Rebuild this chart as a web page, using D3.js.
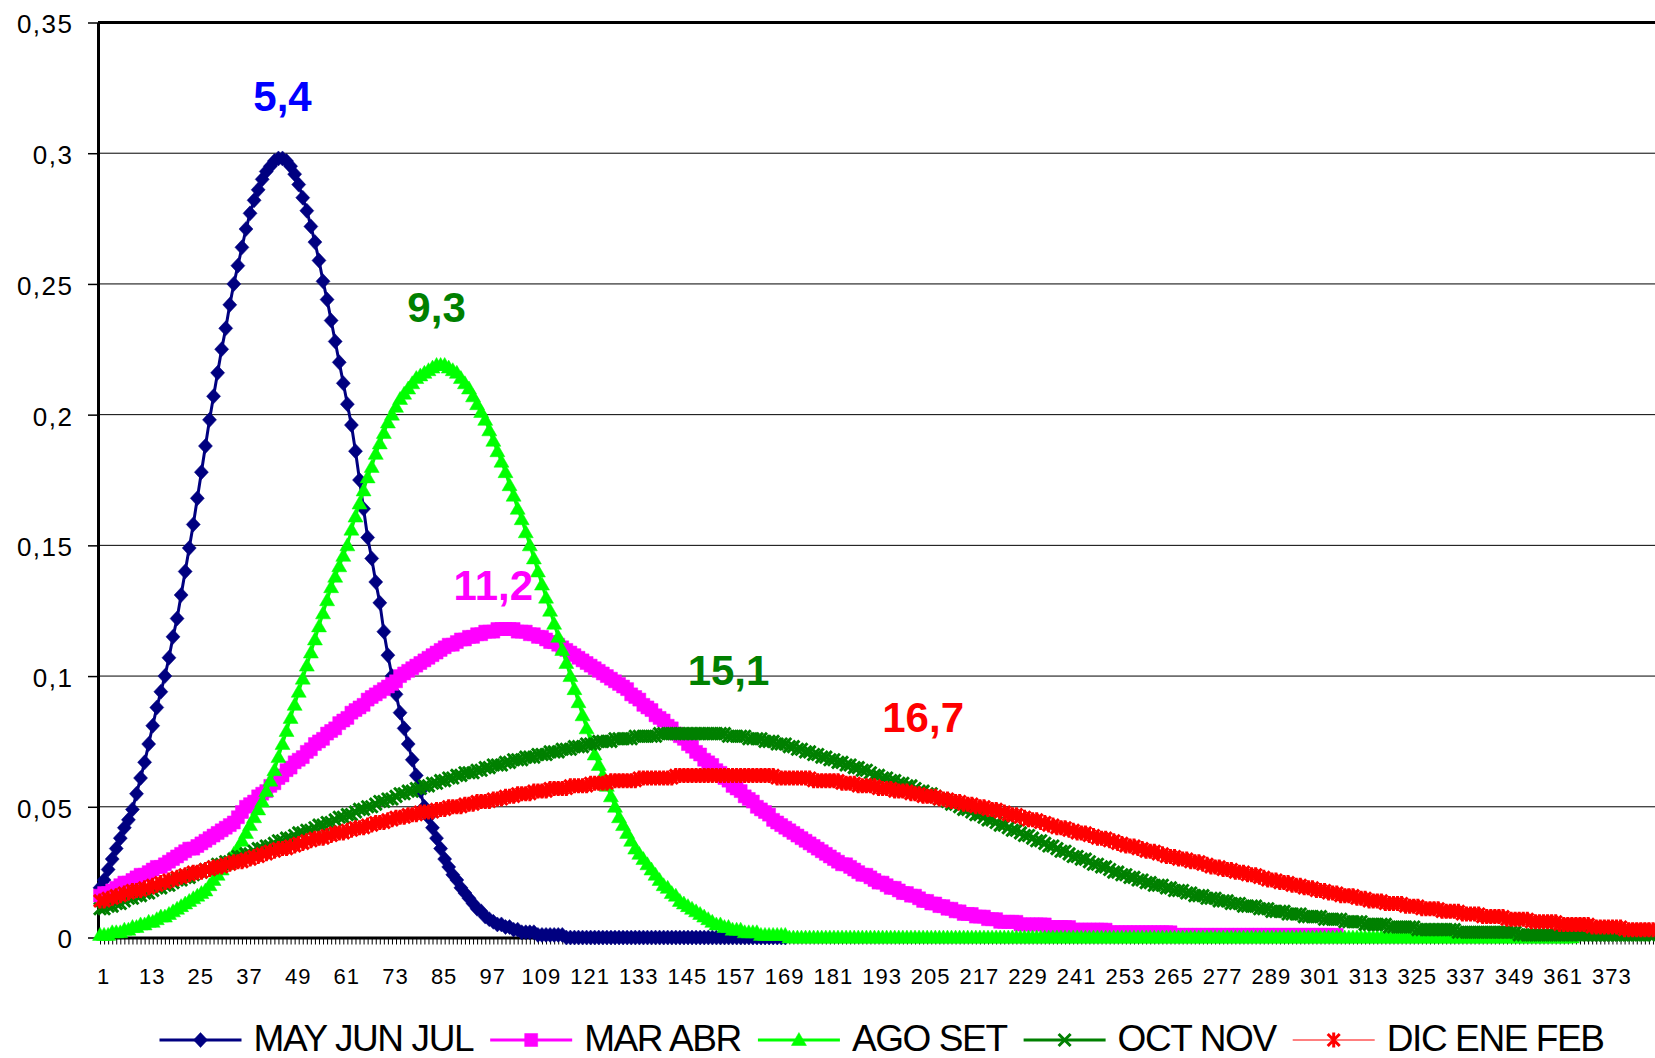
<!DOCTYPE html>
<html>
<head>
<meta charset="utf-8">
<script src="https://cdn.jsdelivr.net/npm/d3@7"></script>
<style>
body { margin: 0; background: #fff; }
</style>
</head>
<body>
<svg id="chart" width="1655" height="1058"></svg>
<script>
var FONT = "'Liberation Sans', Arial, Helvetica, sans-serif";

var categories = d3.range(1, 385);
var xTickLabels = [1, 13, 25, 37, 49, 61, 73, 85, 97, 109, 121, 133, 145, 157, 169, 181,
    193, 205, 217, 229, 241, 253, 265, 277, 289, 301, 313, 325, 337, 349, 361, 373];
var yTicks = [0, 0.05, 0.1, 0.15, 0.2, 0.25, 0.3, 0.35];

var seriesNames = ["MAY JUN JUL", "MAR ABR", "AGO SET", "OCT NOV", "DIC ENE FEB"];
var seriesColors = ["#000080", "#FF00FF", "#00FF00", "#008000", "#FF0000"];

var peakLabels = ["5,4", "9,3", "11,2", "15,1", "16,7"];
var peakLabelColors = ["#0000FF", "#008000", "#FF00FF", "#008000", "#FF0000"];
var peakLabelCats = [46, 84, 98, 156, 204];
var peakLabelVals = [0.316, 0.2355, 0.129, 0.0965, 0.0787];

var mayJunJul = [
0.019,0.022,0.026,0.030,0.034,0.038,0.042,0.045,0.049,0.055,
0.061,0.067,0.074,0.081,0.088,0.094,0.100,0.107,0.115,0.122,
0.131,0.140,0.149,0.158,0.168,0.178,0.188,0.198,0.207,0.216,
0.225,0.233,0.242,0.250,0.257,0.264,0.271,0.277,0.282,0.286,
0.290,0.293,0.295,0.297,0.298,0.298,0.297,0.295,0.292,0.288,
0.283,0.278,0.272,0.266,0.259,0.251,0.244,0.236,0.228,0.220,
0.212,0.204,0.196,0.186,0.175,0.164,0.153,0.145,0.136,0.128,
0.117,0.108,0.100,0.093,0.086,0.080,0.074,0.068,0.062,0.056,
0.050,0.046,0.042,0.038,0.034,0.030,0.027,0.024,0.022,0.019,
0.017,0.015,0.013,0.011,0.010,0.008,0.007,0.006,0.005,0.005,
0.004,0.004,0.003,0.003,0.002,0.002,0.002,0.002,0.001,0.001,
0.001,0.001,0.001,0.001,0.001,0,0,0,0,0,
0,0,0,0,0,0,0,0,0,0,
0,0,0,0,0,0,0,0,0,0,
0,0,0,0,0,0,0,0,0,0,
0,0,0,0,0,0,0,0,0,0,
0,0,0,0,0,0,0,0,0,0
];

var marAbr = [
0.016,0.017,0.017,0.018,0.019,0.020,0.021,0.021,0.022,0.023,
0.024,0.024,0.025,0.026,0.027,0.027,0.028,0.029,0.030,0.031,
0.032,0.033,0.034,0.034,0.035,0.036,0.037,0.038,0.039,0.040,
0.041,0.042,0.043,0.044,0.046,0.048,0.050,0.051,0.052,0.054,
0.055,0.056,0.058,0.059,0.061,0.062,0.064,0.065,0.067,0.068,
0.069,0.071,0.072,0.074,0.075,0.076,0.078,0.079,0.080,0.082,
0.083,0.084,0.086,0.087,0.088,0.089,0.091,0.092,0.093,0.094,
0.095,0.096,0.097,0.098,0.100,0.101,0.102,0.103,0.104,0.105,
0.106,0.107,0.108,0.109,0.110,0.111,0.112,0.112,0.113,0.114,
0.114,0.115,0.115,0.116,0.116,0.117,0.117,0.117,0.118,0.118,
0.118,0.118,0.118,0.117,0.117,0.117,0.116,0.116,0.115,0.115,
0.114,0.113,0.113,0.112,0.111,0.110,0.109,0.108,0.107,0.106,
0.105,0.104,0.103,0.102,0.101,0.100,0.099,0.098,0.097,0.096,
0.095,0.093,0.092,0.091,0.089,0.088,0.087,0.085,0.084,0.083,
0.081,0.080,0.078,0.077,0.076,0.074,0.073,0.071,0.070,0.068,
0.067,0.066,0.064,0.063,0.061,0.060,0.058,0.057,0.056,0.054,
0.053,0.052,0.050,0.049,0.048,0.047,0.045,0.044,0.043,0.042,
0.041,0.040,0.039,0.038,0.037,0.036,0.035,0.034,0.033,0.032,
0.031,0.030,0.029,0.028,0.028,0.027,0.026,0.025,0.024,0.024,
0.023,0.022,0.021,0.021,0.020,0.019,0.019,0.018,0.017,0.017,
0.016,0.016,0.015,0.014,0.014,0.013,0.013,0.012,0.012,0.011,
0.011,0.010,0.010,0.009,0.009,0.009,0.008,0.008,0.008,0.007,
0.007,0.007,0.006,0.006,0.006,0.006,0.006,0.005,0.005,0.005,
0.005,0.005,0.005,0.005,0.004,0.004,0.004,0.004,0.004,0.004,
0.003,0.003,0.003,0.003,0.003,0.003,0.003,0.003,0.003,0.002,
0.002,0.002,0.002,0.002,0.002,0.002,0.002,0.002,0.002,0.002,
0.002,0.002,0.002,0.002,0.002,0.001,0.001,0.001,0.001,0.001,
0.001,0.001,0.001,0.001,0.001,0.001,0.001,0.001,0.001,0.001,
0.001,0.001,0.001,0.001,0.001,0.001,0.001,0.001,0.001,0.001,
0.001,0.001,0.001,0.001,0.001,0.001,0.001,0.001,0.001,0.001,
0.001,0.001,0.001,0.001,0.001,0.001
];

var agoSet = [
0.001,0.001,0.001,0.002,0.002,0.002,0.003,0.003,0.004,0.004,
0.005,0.005,0.006,0.006,0.007,0.008,0.008,0.009,0.010,0.011,
0.012,0.013,0.014,0.015,0.016,0.017,0.018,0.020,0.022,0.024,
0.026,0.028,0.030,0.032,0.034,0.037,0.040,0.043,0.046,0.049,
0.052,0.056,0.060,0.064,0.069,0.074,0.079,0.084,0.089,0.094,
0.099,0.104,0.109,0.114,0.119,0.124,0.129,0.134,0.138,0.142,
0.146,0.150,0.156,0.161,0.166,0.171,0.176,0.180,0.185,0.189,
0.193,0.197,0.200,0.203,0.206,0.208,0.210,0.212,0.214,0.215,
0.216,0.217,0.218,0.219,0.219,0.219,0.218,0.217,0.216,0.214,
0.212,0.210,0.207,0.204,0.201,0.198,0.194,0.190,0.186,0.182,
0.178,0.173,0.169,0.164,0.160,0.155,0.150,0.145,0.140,0.135,
0.130,0.125,0.120,0.115,0.110,0.105,0.100,0.095,0.090,0.085,
0.080,0.075,0.070,0.066,0.062,0.058,0.054,0.050,0.046,0.043,
0.040,0.037,0.034,0.032,0.030,0.028,0.026,0.024,0.022,0.020,
0.019,0.017,0.016,0.014,0.013,0.012,0.011,0.010,0.009,0.008,
0.007,0.006,0.005,0.005,0.004,0.004,0.003,0.003,0.003,0.002,
0.002,0.002,0.002,0.001,0.001,0.001,0.001,0.001,0.001,0.001,
0,0,0,0,0,0,0,0,0,0,
0,0,0,0,0,0,0,0,0,0,
0,0,0,0,0,0,0,0,0,0,
0,0,0,0,0,0,0,0,0,0,
0,0,0,0,0,0,0,0,0,0,
0,0,0,0,0,0,0,0,0,0,
0,0,0,0,0,0,0,0,0,0,
0,0,0,0,0,0,0,0,0,0,
0,0,0,0,0,0,0,0,0,0,
0,0,0,0,0,0,0,0,0,0,
0,0,0,0,0,0,0,0,0,0,
0,0,0,0,0,0,0,0,0,0,
0,0,0,0,0,0,0,0,0,0,
0,0,0,0,0,0,0,0,0,0,
0,0,0,0,0,0,0,0,0,0,
0,0,0,0,0,0,0,0,0,0,
0,0,0,0,0,0,0,0,0,0,
0,0,0,0,0,0,0,0,0,0,
0,0,0,0,0,0,0,0,0,0,
0,0,0,0
];

var octNov = [
0.011,0.011,0.012,0.012,0.013,0.013,0.014,0.015,0.015,0.016,
0.016,0.017,0.017,0.018,0.019,0.019,0.020,0.020,0.021,0.022,
0.022,0.023,0.023,0.024,0.025,0.025,0.026,0.026,0.027,0.028,
0.028,0.029,0.029,0.030,0.031,0.031,0.032,0.032,0.033,0.034,
0.034,0.035,0.035,0.036,0.037,0.037,0.038,0.038,0.039,0.040,
0.040,0.041,0.041,0.042,0.043,0.043,0.044,0.044,0.045,0.046,
0.046,0.047,0.047,0.048,0.049,0.049,0.050,0.050,0.051,0.052,
0.052,0.053,0.053,0.054,0.055,0.055,0.056,0.056,0.057,0.057,
0.058,0.058,0.059,0.059,0.060,0.060,0.061,0.061,0.062,0.062,
0.063,0.063,0.063,0.064,0.064,0.065,0.065,0.066,0.066,0.066,
0.067,0.067,0.068,0.068,0.068,0.069,0.069,0.069,0.070,0.070,
0.070,0.071,0.071,0.071,0.072,0.072,0.072,0.073,0.073,0.073,
0.074,0.074,0.074,0.075,0.075,0.075,0.075,0.076,0.076,0.076,
0.076,0.076,0.077,0.077,0.077,0.077,0.077,0.077,0.078,0.078,
0.078,0.078,0.078,0.078,0.078,0.078,0.078,0.078,0.078,0.078,
0.078,0.078,0.078,0.078,0.078,0.077,0.077,0.077,0.077,0.077,
0.076,0.076,0.076,0.076,0.075,0.075,0.075,0.074,0.074,0.074,
0.073,0.073,0.072,0.072,0.071,0.071,0.070,0.070,0.069,0.069,
0.068,0.068,0.067,0.067,0.066,0.066,0.065,0.065,0.064,0.064,
0.063,0.062,0.062,0.061,0.061,0.060,0.060,0.059,0.059,0.058,
0.058,0.057,0.056,0.056,0.055,0.055,0.054,0.053,0.053,0.052,
0.051,0.051,0.050,0.049,0.049,0.048,0.047,0.047,0.046,0.045,
0.045,0.044,0.043,0.043,0.042,0.041,0.041,0.040,0.039,0.039,
0.038,0.037,0.037,0.036,0.035,0.035,0.034,0.033,0.033,0.032,
0.031,0.031,0.030,0.030,0.029,0.028,0.028,0.027,0.027,0.026,
0.025,0.025,0.024,0.024,0.023,0.023,0.022,0.022,0.021,0.021,
0.020,0.020,0.020,0.019,0.019,0.018,0.018,0.018,0.017,0.017,
0.016,0.016,0.016,0.015,0.015,0.015,0.014,0.014,0.014,0.013,
0.013,0.013,0.012,0.012,0.012,0.012,0.011,0.011,0.011,0.010,
0.010,0.010,0.010,0.009,0.009,0.009,0.009,0.008,0.008,0.008,
0.008,0.008,0.007,0.007,0.007,0.007,0.007,0.006,0.006,0.006,
0.006,0.006,0.005,0.005,0.005,0.005,0.005,0.005,0.004,0.004,
0.004,0.004,0.004,0.004,0.004,0.003,0.003,0.003,0.003,0.003,
0.003,0.003,0.003,0.003,0.003,0.002,0.002,0.002,0.002,0.002,
0.002,0.002,0.002,0.002,0.002,0.002,0.002,0.002,0.002,0.002,
0.001,0.001,0.001,0.001,0.001,0.001,0.001,0.001,0.001,0.001,
0.001,0.001,0.001,0.001,0.001,0.001,0.001,0.001,0.001,0.001,
0.001,0.001,0.001,0.001,0.001,0.001,0.001,0.001,0.001,0.001,
0.001,0.001,0.001,0.001
];

var dicEneFeb = [
0.014,0.014,0.015,0.015,0.016,0.016,0.017,0.017,0.018,0.018,
0.018,0.019,0.019,0.020,0.020,0.021,0.021,0.022,0.022,0.023,
0.023,0.024,0.024,0.025,0.025,0.025,0.026,0.026,0.027,0.027,
0.027,0.028,0.028,0.029,0.029,0.029,0.030,0.030,0.031,0.031,
0.032,0.032,0.033,0.033,0.034,0.034,0.034,0.035,0.035,0.036,
0.036,0.037,0.037,0.038,0.038,0.038,0.039,0.039,0.040,0.040,
0.040,0.041,0.041,0.042,0.042,0.042,0.043,0.043,0.044,0.044,
0.044,0.045,0.045,0.046,0.046,0.046,0.047,0.047,0.047,0.048,
0.048,0.048,0.048,0.049,0.049,0.049,0.050,0.050,0.050,0.050,
0.051,0.051,0.051,0.052,0.052,0.052,0.052,0.053,0.053,0.053,
0.054,0.054,0.054,0.055,0.055,0.055,0.055,0.056,0.056,0.056,
0.056,0.057,0.057,0.057,0.057,0.057,0.058,0.058,0.058,0.058,
0.058,0.059,0.059,0.059,0.059,0.059,0.060,0.060,0.060,0.060,
0.060,0.060,0.060,0.061,0.061,0.061,0.061,0.061,0.061,0.061,
0.061,0.061,0.062,0.062,0.062,0.062,0.062,0.062,0.062,0.062,
0.062,0.062,0.062,0.062,0.062,0.062,0.062,0.062,0.062,0.062,
0.062,0.062,0.062,0.062,0.062,0.062,0.062,0.061,0.061,0.061,
0.061,0.061,0.061,0.061,0.061,0.061,0.060,0.060,0.060,0.060,
0.060,0.060,0.060,0.059,0.059,0.059,0.059,0.058,0.058,0.058,
0.058,0.058,0.057,0.057,0.057,0.057,0.056,0.056,0.056,0.056,
0.055,0.055,0.055,0.054,0.054,0.054,0.054,0.053,0.053,0.053,
0.052,0.052,0.052,0.051,0.051,0.051,0.050,0.050,0.050,0.049,
0.049,0.049,0.048,0.048,0.047,0.047,0.047,0.046,0.046,0.045,
0.045,0.045,0.044,0.044,0.043,0.043,0.042,0.042,0.042,0.041,
0.041,0.040,0.040,0.040,0.039,0.039,0.038,0.038,0.038,0.037,
0.037,0.036,0.036,0.035,0.035,0.035,0.034,0.034,0.033,0.033,
0.033,0.032,0.032,0.031,0.031,0.031,0.030,0.030,0.030,0.029,
0.029,0.029,0.028,0.028,0.027,0.027,0.027,0.026,0.026,0.026,
0.025,0.025,0.025,0.024,0.024,0.024,0.023,0.023,0.022,0.022,
0.022,0.021,0.021,0.021,0.020,0.020,0.020,0.019,0.019,0.019,
0.018,0.018,0.018,0.017,0.017,0.017,0.016,0.016,0.016,0.016,
0.015,0.015,0.015,0.014,0.014,0.014,0.014,0.013,0.013,0.013,
0.013,0.013,0.012,0.012,0.012,0.012,0.011,0.011,0.011,0.011,
0.011,0.010,0.010,0.010,0.010,0.010,0.009,0.009,0.009,0.009,
0.009,0.008,0.008,0.008,0.008,0.008,0.008,0.007,0.007,0.007,
0.007,0.007,0.007,0.006,0.006,0.006,0.006,0.006,0.006,0.006,
0.005,0.005,0.005,0.005,0.005,0.005,0.005,0.005,0.004,0.004,
0.004,0.004,0.004,0.004,0.004,0.004,0.003,0.003,0.003,0.003,
0.003,0.003,0.003,0.003
];

var seriesValues = [mayJunJul, marAbr, agoSet, octNov, dicEneFeb];

// marker shapes, one per series (Excel style)
var markerPaths = [
    "M0,-7.5L7,0L0,7.5L-7,0Z",
    "M-6.5,-6.5H6.5V6.5H-6.5Z",
    "M0,-7.5L7.5,5.5L-7.5,5.5Z",
    "M-6,-6L6,6M-6,6L6,-6",
    "M-6,-6L6,6M-6,6L6,-6M0,-7.5L0,7.5"
];
var markerFilled = [true, true, true, false, false];
var lineWidths = [3, 3, 3, 3, 1.5];

var svg = d3.select("#chart");

var x = d3.scalePoint().domain(categories).range([98, 1655]).padding(0.5);
var y = d3.scaleLinear().domain([0, 0.35]).range([937.5, 22.5]);

// gridlines
svg.append("g")
    .selectAll("line")
    .data(yTicks.filter(function (d) { return d > 0 && d < 0.35; }))
    .enter()
    .append("line")
    .attr("x1", 98)
    .attr("x2", 1655)
    .attr("y1", function (d) { return y(d); })
    .attr("y2", function (d) { return y(d); })
    .attr("stroke", "#000")
    .attr("stroke-width", 1);

// top frame line
svg.append("line")
    .attr("x1", 98).attr("x2", 1655)
    .attr("y1", y(0.35)).attr("y2", y(0.35))
    .attr("stroke", "#000")
    .attr("stroke-width", 3);

// y axis
var yAxis = svg.append("g")
    .attr("transform", "translate(98,0)")
    .call(d3.axisLeft(y)
        .tickValues(yTicks)
        .tickSize(10)
        .tickSizeOuter(0)
        .tickPadding(14.5)
        .tickFormat(function (d) { return String(d).replace(".", ","); }));
yAxis.attr("font-family", FONT).attr("font-size", 26);
yAxis.select(".domain").attr("stroke-width", 3);
yAxis.selectAll(".tick line").attr("stroke-width", 1.5);
yAxis.selectAll(".tick text")
    .attr("fill", "#000")
    .attr("dy", "0.4em")
    .attr("letter-spacing", 1.5);

// x axis: one small tick per category
var xMinor = svg.append("g")
    .attr("transform", "translate(0," + y(0) + ")")
    .call(d3.axisBottom(x).tickValues(categories).tickSize(7).tickFormat(""));
xMinor.select(".domain").remove();
xMinor.selectAll(".tick line").attr("stroke-width", 1);

var xAxis = svg.append("g")
    .attr("transform", "translate(0," + y(0) + ")")
    .call(d3.axisBottom(x)
        .tickValues(xTickLabels)
        .tickSize(0)
        .tickSizeOuter(0)
        .tickPadding(31));
xAxis.attr("font-family", FONT).attr("font-size", 22);
xAxis.select(".domain").attr("stroke-width", 3);
xAxis.selectAll(".tick text")
    .attr("fill", "#000")
    .attr("dx", 3)
    .attr("letter-spacing", 1);

// series: line + markers
seriesValues.forEach(function (values, s) {
    var g = svg.append("g").attr("class", "series-" + s);
    var line = d3.line()
        .x(function (d, i) { return x(categories[i]); })
        .y(function (d) { return y(d); });

    g.append("path")
        .datum(values)
        .attr("fill", "none")
        .attr("stroke", seriesColors[s])
        .attr("stroke-width", lineWidths[s])
        .attr("stroke-linejoin", "round")
        .attr("d", line);

    g.selectAll("path.marker")
        .data(values)
        .enter()
        .append("path")
        .attr("class", "marker")
        .attr("d", markerPaths[s])
        .attr("transform", function (d, i) {
            return "translate(" + x(categories[i]) + "," + y(d) + ")";
        })
        .attr("fill", markerFilled[s] ? seriesColors[s] : "none")
        .attr("stroke", seriesColors[s])
        .attr("stroke-width", markerFilled[s] ? 0.5 : 3);
});

// peak labels
svg.append("g")
    .selectAll("text")
    .data(peakLabels)
    .enter()
    .append("text")
    .attr("x", function (d, i) { return x(peakLabelCats[i]); })
    .attr("y", function (d, i) { return y(peakLabelVals[i]); })
    .attr("text-anchor", "middle")
    .attr("font-family", FONT)
    .attr("font-size", 42)
    .attr("font-weight", "bold")
    .attr("fill", function (d, i) { return peakLabelColors[i]; })
    .text(function (d) { return d; });

// legend
var legend = svg.append("g");
var lx = 159.5;
seriesNames.forEach(function (name, s) {
    var item = legend.append("g");
    item.append("line")
        .attr("x1", lx).attr("x2", lx + 82)
        .attr("y1", 1040).attr("y2", 1040)
        .attr("stroke", seriesColors[s])
        .attr("stroke-width", s === 4 ? 1 : 3);
    item.append("path")
        .attr("d", markerPaths[s])
        .attr("transform", "translate(" + (lx + 41) + ",1040)")
        .attr("fill", markerFilled[s] ? seriesColors[s] : "none")
        .attr("stroke", seriesColors[s])
        .attr("stroke-width", markerFilled[s] ? 0.5 : 3);
    var t = item.append("text")
        .attr("x", lx + 94)
        .attr("y", 1051)
        .attr("font-family", FONT)
        .attr("font-size", 37)
        .attr("letter-spacing", -1.4)
        .attr("fill", "#000")
        .text(name);
    lx = lx + 94 + t.node().getComputedTextLength() + 17;
});
</script>
</body>
</html>
